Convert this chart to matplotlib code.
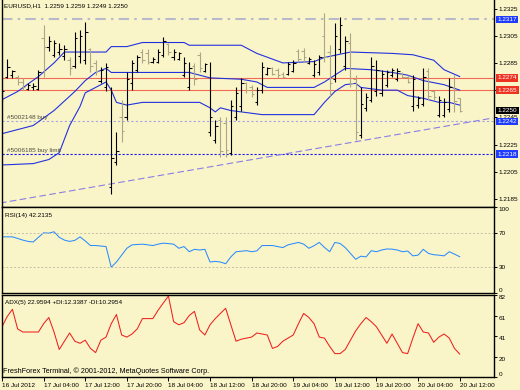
import matplotlib
matplotlib.use('Agg')
import matplotlib.pyplot as plt
from matplotlib.transforms import blended_transform_factory

plt.rcParams['font.family'] = ['Liberation Sans', 'DejaVu Sans']

# EURUSD H1, one bar per hour from 16 Jul 20:00 to 20 Jul 12:00
opens = [1.2257, 1.2275, 1.2276, 1.2275, 1.2271, 1.2266, 1.2267, 1.2266, 1.2303, 1.2297,
         1.2291, 1.2293, 1.2290, 1.2287, 1.2283, 1.2290, 1.2287, 1.2295, 1.2285, 1.2272,
         1.2267, 1.2194, 1.2212, 1.2245, 1.2245, 1.2270, 1.2280, 1.2293, 1.2292, 1.2286,
         1.2286, 1.2291, 1.2299, 1.2289, 1.2288, 1.2276, 1.2267, 1.2283, 1.2291, 1.2279,
         1.2234, 1.2228, 1.2243, 1.2241, 1.2219, 1.2245, 1.2253, 1.2270, 1.2267, 1.2256,
         1.2265, 1.2277, 1.2281, 1.2280, 1.2277, 1.2277, 1.2279, 1.2294, 1.2294, 1.2285,
         1.2276, 1.2278, 1.2305, 1.2293, 1.2273, 1.2295, 1.2283, 1.2300, 1.2273, 1.2232,
         1.2252, 1.2258, 1.2264, 1.2263, 1.2269, 1.2276, 1.2273, 1.2277, 1.2275, 1.2253,
         1.2254, 1.2255, 1.2279, 1.2264, 1.2247, 1.2247, 1.2251, 1.2267, 1.2259]
highs = [1.2265, 1.2288, 1.2280, 1.2276, 1.2274, 1.2270, 1.2270, 1.2280, 1.2313, 1.2305,
         1.2302, 1.2300, 1.2298, 1.2289, 1.2308, 1.2309, 1.2315, 1.2296, 1.2287, 1.2282,
         1.2285, 1.2267, 1.2234, 1.2258, 1.2278, 1.2287, 1.2291, 1.2295, 1.2295, 1.2289,
         1.2295, 1.2304, 1.2300, 1.2295, 1.2293, 1.2289, 1.2286, 1.2285, 1.2293, 1.2285,
         1.2286, 1.2243, 1.2245, 1.2245, 1.2258, 1.2267, 1.2274, 1.2271, 1.2269, 1.2267,
         1.2286, 1.2282, 1.2282, 1.2281, 1.2278, 1.2286, 1.2287, 1.2295, 1.2296, 1.2289,
         1.2287, 1.2291, 1.2322, 1.2298, 1.2314, 1.2319, 1.2305, 1.2307, 1.2276, 1.2267,
         1.2263, 1.2289, 1.2287, 1.2280, 1.2280, 1.2281, 1.2281, 1.2278, 1.2276, 1.2276,
         1.2261, 1.2281, 1.2281, 1.2265, 1.2261, 1.2259, 1.2274, 1.2276, 1.2259]
lows = [1.2256, 1.2274, 1.2274, 1.2269, 1.2265, 1.2265, 1.2265, 1.2265, 1.2275, 1.2294,
        1.2289, 1.2291, 1.2287, 1.2276, 1.2281, 1.2285, 1.2284, 1.2278, 1.2276, 1.2270,
        1.2264, 1.2189, 1.2210, 1.2227, 1.2243, 1.2265, 1.2278, 1.2285, 1.2284, 1.2285,
        1.2285, 1.2289, 1.2291, 1.2287, 1.2287, 1.2275, 1.2265, 1.2269, 1.2278, 1.2278,
        1.2231, 1.2226, 1.2216, 1.2216, 1.2217, 1.2243, 1.2250, 1.2263, 1.2260, 1.2254,
        1.2263, 1.2276, 1.2276, 1.2274, 1.2274, 1.2276, 1.2278, 1.2286, 1.2286, 1.2284,
        1.2275, 1.2276, 1.2286, 1.2261, 1.2271, 1.2292, 1.2280, 1.2267, 1.2228, 1.2230,
        1.2250, 1.2256, 1.2261, 1.2261, 1.2267, 1.2275, 1.2272, 1.2274, 1.2270, 1.2250,
        1.2252, 1.2253, 1.2258, 1.2258, 1.2245, 1.2245, 1.2249, 1.2249, 1.2249]
closes = [1.2264, 1.2282, 1.2279, 1.2271, 1.2267, 1.2269, 1.2268, 1.2278, 1.2297, 1.2301,
          1.2300, 1.2295, 1.2295, 1.2281, 1.2303, 1.2305, 1.2308, 1.2283, 1.2279, 1.2280,
          1.2282, 1.2215, 1.2220, 1.2235, 1.2273, 1.2285, 1.2289, 1.2287, 1.2286, 1.2288,
          1.2293, 1.2301, 1.2293, 1.2293, 1.2292, 1.2285, 1.2281, 1.2273, 1.2281, 1.2284,
          1.2245, 1.2239, 1.2220, 1.2221, 1.2253, 1.2263, 1.2270, 1.2265, 1.2262, 1.2265,
          1.2282, 1.2281, 1.2277, 1.2276, 1.2275, 1.2284, 1.2285, 1.2288, 1.2289, 1.2288,
          1.2284, 1.2289, 1.2289, 1.2270, 1.2305, 1.2313, 1.2301, 1.2270, 1.2234, 1.2255,
          1.2260, 1.2283, 1.2280, 1.2277, 1.2278, 1.2280, 1.2279, 1.2275, 1.2271, 1.2273,
          1.2259, 1.2275, 1.2261, 1.2260, 1.2258, 1.2256, 1.2267, 1.2257, 1.2250]

# bollinger bands, read at the bends (bar index, price)
upper_idx = [0, 3, 7, 10, 12, 20, 21, 24, 27, 35, 36, 46, 49, 54, 60, 62, 67, 75, 79, 83, 85, 88]
upper_val = [1.2258, 1.2264, 1.2275, 1.2285, 1.2293, 1.2293, 1.2297, 1.2297, 1.2300, 1.2300, 1.2298,
             1.2298, 1.2292, 1.2285, 1.2286, 1.2289, 1.2293, 1.2292, 1.2291, 1.2287, 1.2280, 1.2275]
mid_idx = [0, 6, 10, 14, 16, 18, 20, 21, 25, 36, 40, 46, 49, 51, 60, 62, 66, 71, 75, 78, 81, 85, 88]
mid_val = [1.2233, 1.2239, 1.2250, 1.2264, 1.2272, 1.2278, 1.2281, 1.2278, 1.2278, 1.2278, 1.2274, 1.2273,
           1.2271, 1.2267, 1.2267, 1.2271, 1.2281, 1.2280, 1.2278, 1.2276, 1.2272, 1.2269, 1.2265]
lower_idx = [0, 6, 9, 11, 12, 13, 15, 16, 18, 20, 21, 22, 24, 27, 38, 40, 41, 42, 44, 50, 60, 62, 64,
             66, 68, 69, 73, 76, 78, 81, 84, 86, 88]
lower_val = [1.2210, 1.2211, 1.2214, 1.2219, 1.2229, 1.2239, 1.2253, 1.2263, 1.2267, 1.2271, 1.2265,
             1.2256, 1.2254, 1.2256, 1.2256, 1.2252, 1.2249, 1.2252, 1.2250, 1.2247, 1.2247, 1.2256,
             1.2264, 1.2269, 1.2270, 1.2267, 1.2265, 1.2265, 1.2261, 1.2259, 1.2256, 1.2256, 1.2254]

# trend line end points
trend_idx = [-0.4, 94.4]
trend_val = [1.2182, 1.22445]

rsi = [65.3, 65.3, 65.3, 63.5, 61.5, 60.0, 59.3, 64.8, 70.0, 69.6,
       71.2, 64.8, 61.5, 60.0, 61.2, 65.3, 60.5, 55.2, 55.2, 54.6,
       54.0, 30.0, 36.0, 44.0, 52.0, 56.0, 56.4, 56.8, 56.0, 55.2,
       56.8, 58.0, 57.4, 56.8, 52.0, 54.0, 48.0, 50.8, 50.0, 50.8,
       36.0, 36.8, 36.0, 34.0, 42.0, 48.0, 48.6, 49.2, 48.0, 49.0,
       55.2, 55.2, 55.2, 54.0, 52.8, 56.0, 57.4, 58.8, 56.8, 52.0,
       55.0, 58.8, 53.0, 48.0, 58.8, 57.6, 52.8, 46.0, 39.2, 42.8,
       42.0, 49.2, 48.0, 50.0, 51.2, 51.0, 50.0, 48.0, 48.8, 43.2,
       44.0, 50.8, 46.0, 44.5, 44.0, 43.2, 48.0, 45.2, 42.2]

adx = [50.2, 60.5, 67.7, 48.1, 45.0, 45.0, 45.0, 45.0, 53.3, 59.5,
       45.0, 27.5, 35.8, 44.0, 35.8, 33.7, 36.8, 28.6, 24.4, 36.8,
       39.9, 53.3, 62.5, 42.0, 39.9, 43.0, 48.1, 58.4, 58.4, 58.4,
       66.7, 73.9, 81.0, 55.3, 52.2, 54.3, 61.5, 65.6, 47.1, 42.0,
       52.2, 58.4, 63.6, 68.7, 52.2, 35.8, 37.8, 38.9, 39.9, 44.0,
       43.0, 42.0, 28.6, 30.6, 35.8, 38.9, 42.0, 53.3, 63.6, 59.5,
       53.3, 39.9, 38.9, 30.6, 23.4, 23.4, 27.5, 36.8, 46.1, 53.3,
       59.5, 55.3, 50.2, 42.0, 33.7, 43.0, 33.7, 24.4, 23.4, 38.9,
       53.3, 45.0, 44.0, 34.7, 39.9, 43.0, 38.9, 28.6, 22.96]

time_labels = ['16 Jul 2012', '17 Jul 04:00', '17 Jul 12:00', '17 Jul 20:00', '18 Jul 04:00',
               '18 Jul 12:00', '18 Jul 20:00', '19 Jul 04:00', '19 Jul 12:00', '19 Jul 20:00',
               '20 Jul 04:00', '20 Jul 12:00']
time_idx = [0, 8, 16, 24, 32, 40, 48, 56, 64, 72, 80, 88]

price_ticks = [1.2325, 1.2305, 1.2285, 1.2265, 1.2245, 1.2225, 1.2205, 1.2185]

red_levels = [1.2274, 1.2265]
blue_levels = [1.2317, 1.2242, 1.2218]
last_price = 1.2250

W, H = 520, 390
BG = '#faf5c8'
FS = 4.6

fig = plt.figure(figsize=(W / 100, H / 100), dpi=100, facecolor=BG)


def px_axes(x0, y0, x1, y1):
    ax = fig.add_axes([x0 / W, 1 - y1 / H, (x1 - x0) / W, (y1 - y0) / H])
    ax.set_facecolor(BG)
    for s in ax.spines.values():
        s.set_linewidth(1.0)
    ax.set_xlim(-0.1, 94.6)
    ax.yaxis.tick_right()
    ax.tick_params(axis='y', direction='out', length=2, width=0.7, labelsize=FS, pad=1.2)
    ax.tick_params(axis='x', bottom=False, labelbottom=False)
    return ax


ax = px_axes(1.5, 0, 494, 207)
ax_rsi = px_axes(1.5, 207, 494, 293)
ax_adx = px_axes(1.5, 295, 494, 377)

# ---- price panel
ax.set_ylim(1.21791, 1.233125)
ax.spines['top'].set_visible(False)
ax.set_yticks(price_ticks)
ax.set_yticklabels(['%.4f' % p for p in price_ticks])

n = len(closes)
cols = ['black' if closes[i] >= opens[i] else '#aca685' for i in range(n)]
xs = list(range(n))
ax.vlines(xs, lows, highs, colors=cols, lw=0.8, zorder=3)
ax.hlines(opens, [x - 0.45 for x in xs], xs, colors=cols, lw=0.75, zorder=3)
ax.hlines(closes, xs, [x + 0.45 for x in xs], colors=cols, lw=0.75, zorder=3)

band_col = '#2231e0'
ax.plot(upper_idx, upper_val, color=band_col, lw=0.8, zorder=2)
ax.plot(mid_idx, mid_val, color=band_col, lw=0.8, zorder=2)
ax.plot(lower_idx, lower_val, color=band_col, lw=0.8, zorder=2)

ax.plot(trend_idx, trend_val, color='#8a7ee6', lw=0.8, ls=(0, (6, 3)), zorder=2)

for p in red_levels:
    ax.axhline(p, color='#f26a55', lw=0.8, zorder=1)
ax.axhline(blue_levels[0], color='#b9b9cc', lw=1.5, ls=(0, (5, 2.5, 1.2, 2.5)), zorder=1)
ax.axhline(blue_levels[1], color='#a2a6e2', lw=0.8, ls=(0, (2, 2)), zorder=1)
ax.axhline(blue_levels[2], color='#1a1aff', lw=0.8, ls=(0, (2, 1.6)), zorder=1)

tr = blended_transform_factory(ax.transAxes, ax.transData)
ax.text(0.012, blue_levels[1] + 0.0001, '#5002148 buy', fontsize=FS, color='#4a4a40',
        transform=tr, va='bottom')
ax.text(0.012, blue_levels[2] + 0.0001, '#5006185 buy limit', fontsize=FS, color='#4a4a40',
        transform=tr, va='bottom')

boxes = [(p, '#1f3cff') for p in blue_levels] + [(p, '#ee3322') for p in red_levels] + [(last_price, 'black')]
for p, c in boxes:
    ax.text(1.0075, p, '%.4f' % p, transform=tr, fontsize=FS, color='white', va='center', ha='left',
            clip_on=False, zorder=10,
            bbox=dict(boxstyle='square,pad=0.2', fc=c, ec='none'))

ax.text(0.005, 0.985, 'EURUSD,H1  1.2259 1.2259 1.2249 1.2250', transform=ax.transAxes,
        fontsize=FS, va='top', ha='left')

# ---- RSI panel
ax_rsi.set_ylim(0, 100)
ax_rsi.plot(xs, rsi, color='#2a8cff', lw=0.75)
for lv in [30, 70]:
    ax_rsi.axhline(lv, color='#c4bfa0', lw=0.7, ls=(0, (2, 2)))
ax_rsi.set_yticks([0, 30, 70, 100])
ax_rsi.set_yticklabels(['0', '30', '70', '100'])
rl = ax_rsi.get_yticklabels()
rl[0].set_va('bottom')
rl[3].set_va('top')
ax_rsi.text(0.008, 0.93, 'RSI(14) 42.2135', transform=ax_rsi.transAxes, fontsize=FS, va='top')

# ---- ADX panel
ax_adx.set_ylim(0, 82)
ax_adx.plot(xs, adx, color='#ee2020', lw=0.75)
ax_adx.set_yticks([0, 20, 41, 61, 82])
ax_adx.set_yticklabels(['0', '20', '41', '61', '82'])
for lab in ax_adx.get_yticklabels():
    lab.set_va('bottom' if lab.get_text() == '0' else 'top')
ax_adx.text(0.008, 0.94, 'ADX(5) 22.9594 +DI:12.3387 -DI:10.2954', transform=ax_adx.transAxes,
            fontsize=FS, va='top')
ax_adx.text(0.004, 0.02, 'FreshForex Terminal, \u00a9 2001-2012, MetaQuotes Software Corp.',
            transform=ax_adx.transAxes, fontsize=FS + 0.6, va='bottom')

ax_adx.set_xticks(time_idx)
ax_adx.set_xticklabels(time_labels, ha='left')
ax_adx.tick_params(axis='x', bottom=True, labelbottom=True, direction='out', length=3,
                   width=0.7, labelsize=FS, pad=1.5)

fig.savefig('out.png', dpi=100, facecolor=BG)
